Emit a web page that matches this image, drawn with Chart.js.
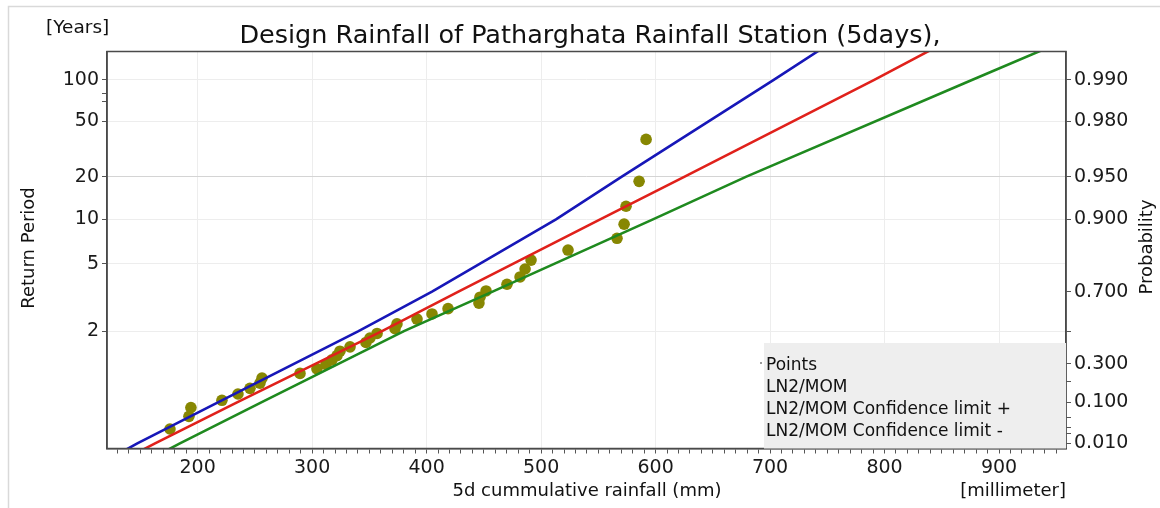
<!DOCTYPE html>
<html><head><meta charset="utf-8">
<script src="https://cdn.jsdelivr.net/npm/chart.js@4.4.0/dist/chart.umd.min.js"></script>
<style>html,body{margin:0;padding:0;background:#fff;overflow:hidden}#wrap{position:relative;width:1160px;height:508px}</style>
</head><body><div id="wrap"><canvas id="c" width="1160" height="508"></canvas></div>
<script>
// ---- data ----
const pointRainfall = [175.8,192.4,194.1,221.2,235.2,245.7,254.4,256.2,289.4,304.2,312.1,317.3,321.7,324.3,333.1,347.0,350.5,356.7,372.4,374.1,391.6,404.7,418.7,445.7,446.6,451.9,470.2,481.6,486.0,491.2,523.5,566.3,572.5,574.2,585.6,591.7];
const pointProbability = [0.027,0.054,0.081,0.108,0.135,0.162,0.189,0.216,0.243,0.270,0.297,0.324,0.351,0.378,0.405,0.432,0.459,0.486,0.514,0.541,0.568,0.595,0.622,0.649,0.676,0.703,0.730,0.757,0.784,0.811,0.838,0.865,0.892,0.919,0.946,0.973];
const lineProbability = [0.005,0.01,0.1,0.5,0.7,0.9,0.95,0.99,0.995];
const fitLN2 = [148.7,162.8,234.4,361.0,427.8,551.6,625.4,791.0,858.9];
const confPlus = [134.1,147.3,217.7,340.5,404.7,513.0,570.5,703.2,758.5];
const confMinus = [170.6,184.5,255.6,380.2,457.6,597.7,679.3,876.3,961.1];
const returnPeriodLabels = [100,50,20,10,5,2];
const returnPeriodMinor = [80,70];
const probabilityLabels = [0.99,0.98,0.95,0.9,0.7,0.3,0.1,0.01];
const probabilityMinor = [0.5,0.2,0.05,0.03,0.02];
const xLabelStep = 100;
const xMinorStep = 10;
const legendLabels = ['Points','LN2/MOM','LN2/MOM Confidence limit +','LN2/MOM Confidence limit -'];

// Gumbel reduced variate (probability paper)
const gumbel = p => -Math.log(-Math.log(p));
const FONT = '"DejaVu Sans", "Liberation Sans", sans-serif';
const X_MIN = 120.8, X_MAX = 958.5;
const Y_MIN = -1.613, Y_MAX = 5.080;

const lineData = arr => arr.map((x,i)=>({x:x, y:gumbel(lineProbability[i])}));
const pointData = pointRainfall.map((x,i)=>({x:x, y:gumbel(pointProbability[i])}));

const leftTicks = returnPeriodLabels.map(T=>({value:gumbel(1-1/T), label:String(T), major:true, T:T}))
  .concat(returnPeriodMinor.map(T=>({value:gumbel(1-1/T), label:'', major:false, T:T})));
const rightTicks = probabilityLabels.map(p=>({value:gumbel(p), label:p.toFixed(3)}))
  .concat(probabilityMinor.map(p=>({value:gumbel(p), label:''})));

const decor = {
  id:'decor',
  afterDraw(chart){
    const ctx = chart.ctx, a = chart.chartArea;
    ctx.save();
    // outer frame
    ctx.strokeStyle = '#d9d9d9'; ctx.lineWidth = 1.5;
    ctx.beginPath(); ctx.moveTo(8.5,520); ctx.lineTo(8.5,6.5); ctx.lineTo(1170,6.5); ctx.stroke();
    // plot box
    ctx.strokeStyle = '#4a4a4a'; ctx.lineWidth = 1.5;
    ctx.strokeRect(a.left, a.top, a.right-a.left, a.bottom-a.top);
    // legend box
    ctx.fillStyle = '#eeeeee';
    ctx.fillRect(764, 343, a.right-764, a.bottom-343);
    ctx.fillStyle = '#9a9a9a'; ctx.fillRect(760,362,2,2);
    ctx.fillStyle = '#111';
    ctx.font = '17px ' + FONT; ctx.textAlign='left'; ctx.textBaseline='middle';
    legendLabels.forEach((t,i)=>ctx.fillText(t, 766, 366 + i*22));
    // titles
    ctx.font = '25.5px ' + FONT; ctx.textAlign='center'; ctx.textBaseline='alphabetic';
    ctx.fillText('Design Rainfall of Patharghata Rainfall Station (5days),', 590, 43);
    ctx.font = '18.5px ' + FONT; ctx.textAlign='left';
    ctx.fillText('[Years]', 46, 33);
    ctx.font = '18px ' + FONT; ctx.textAlign='center'; ctx.textBaseline='middle';
    ctx.fillText('5d cummulative rainfall (mm)', 587, 491);
    ctx.textAlign='right';
    ctx.fillText('[millimeter]', 1066, 491);
    ctx.textAlign='center';
    ctx.save(); ctx.translate(29, 248); ctx.rotate(-Math.PI/2); ctx.fillText('Return Period',0,0); ctx.restore();
    ctx.save(); ctx.translate(1147, 247); ctx.rotate(-Math.PI/2); ctx.fillText('Probability',0,0); ctx.restore();
    ctx.restore();
  }
};

new Chart(document.getElementById('c'), {
  type:'scatter',
  data:{datasets:[
    {label:'LN2/MOM', data:lineData(fitLN2), showLine:true, borderColor:'#e0211b', borderWidth:2.6, pointRadius:0, order:0, clip:0},
    {label:'LN2/MOM Confidence limit +', data:lineData(confPlus), showLine:true, borderColor:'#1717b8', borderWidth:2.6, pointRadius:0, order:0, clip:0},
    {label:'LN2/MOM Confidence limit -', data:lineData(confMinus), showLine:true, borderColor:'#1f8a1f', borderWidth:2.6, pointRadius:0, order:0, clip:0},
    {label:'Points', data:pointData, showLine:false, backgroundColor:'#878702', borderColor:'#878702', borderWidth:0, pointRadius:5.8, order:1}
  ]},
  options:{
    responsive:false, animation:false, devicePixelRatio:1,
    layout:{padding:{top:51.5,left:0,right:0,bottom:0}},
    plugins:{legend:{display:false}, tooltip:{enabled:false}},
    scales:{
      x:{type:'linear', position:'bottom', min:X_MIN, max:X_MAX,
        afterBuildTicks(s){ const t=[]; for(let v=130; v<=950; v+=xMinorStep) t.push({value:v}); s.ticks=t; },
        afterFit(s){ s.height = 508-448.5; },
        grid:{color:c=>(c.tick && c.tick.value%xLabelStep===0)?'#ededed':'rgba(0,0,0,0)', tickColor:'#555', tickLength:5, lineWidth:1},
        border:{color:'#4a4a4a', width:1.5},
        ticks:{autoSkip:false, maxRotation:0, padding:3, color:'#1a1a1a', font:{family:FONT,size:19},
          callback:v=>(v%xLabelStep===0)?String(v):''}
      },
      y:{type:'linear', position:'left', min:Y_MIN, max:Y_MAX,
        afterBuildTicks(s){ s.ticks = leftTicks.map(t=>({value:t.value})); },
        afterFit(s){ s.width = 107; },
        grid:{color:c=>{const t=leftTicks[c.index]; if(!t||!t.major) return 'rgba(0,0,0,0)'; return t.T===20?'#d4d4d4':'#ededed';}, tickColor:'#555', tickLength:5, lineWidth:1},
        border:{color:'#4a4a4a', width:1.5},
        ticks:{autoSkip:false, padding:3, color:'#1a1a1a', font:{family:FONT,size:19},
          callback:(v,i)=>leftTicks[i]?leftTicks[i].label:''}
      },
      y2:{type:'linear', position:'right', min:Y_MIN, max:Y_MAX,
        afterBuildTicks(s){ s.ticks = rightTicks.map(t=>({value:t.value})); },
        afterFit(s){ s.width = 1160-1066; },
        grid:{drawOnChartArea:false, tickColor:'#555', tickLength:5},
        border:{color:'#4a4a4a', width:1.5},
        ticks:{autoSkip:false, padding:3, color:'#1a1a1a', font:{family:FONT,size:19},
          callback:(v,i)=>rightTicks[i]?rightTicks[i].label:''}
      }
    }
  },
  plugins:[decor]
});
</script></body></html>
